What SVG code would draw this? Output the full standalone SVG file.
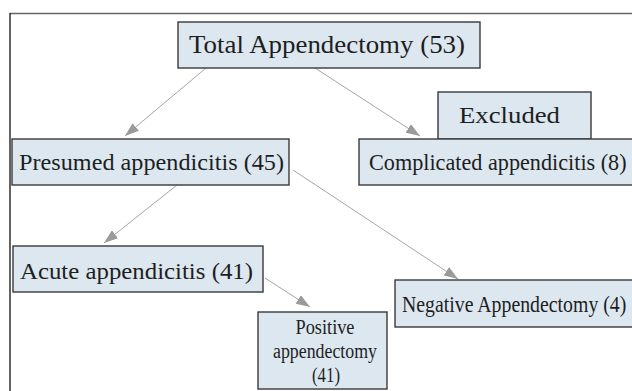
<svg xmlns="http://www.w3.org/2000/svg" width="632" height="391" viewBox="0 0 632 391">
<style>
.box{fill:#dce7f0;stroke:#3a3a3a;stroke-width:1.4}
.t{font-family:"Liberation Serif","Times New Roman",serif;fill:#1e1e1e;font-size:24px}
.s{font-size:20px}
.c{text-anchor:middle}
.ln{stroke:#a6a6a6;stroke-width:1;fill:none;marker-end:url(#ah)}
</style>
<defs>
<marker id="ah" markerUnits="userSpaceOnUse" markerWidth="14" markerHeight="10" refX="14" refY="5" orient="auto">
<path d="M0,0 L14,5 L0,10 z" fill="#9a9a9a"/>
</marker>
</defs>
<rect width="632" height="391" fill="#ffffff"/>
<g id="frame">
<line x1="10" y1="13.5" x2="632" y2="13.5" stroke="#666" stroke-width="1.6"/>
<line x1="10" y1="13" x2="10" y2="391" stroke="#222" stroke-width="1.4"/>
</g>
<g id="connectors">
<line class="ln" x1="206" y1="68" x2="125" y2="136"/>
<line class="ln" x1="315" y1="68" x2="420" y2="136"/>
<line class="ln" x1="177" y1="185" x2="104" y2="243"/>
<line class="ln" x1="293" y1="170" x2="458" y2="279"/>
<line class="ln" x1="265" y1="278" x2="310" y2="307"/>
</g>
<g id="total">
<rect class="box" x="178" y="22" width="302" height="46"/>
<text class="t" x="189" y="53" style="font-size:26px" textLength="276" lengthAdjust="spacingAndGlyphs">Total Appendectomy (53)</text>
</g>
<g id="excluded">
<rect class="box" x="438" y="92" width="153" height="47"/>
<text class="t" x="459" y="123" textLength="101" lengthAdjust="spacingAndGlyphs">Excluded</text>
</g>
<g id="presumed">
<rect class="box" x="12" y="139" width="277" height="46"/>
<text class="t" x="19" y="170" textLength="265" lengthAdjust="spacingAndGlyphs">Presumed appendicitis (45)</text>
</g>
<g id="complicated">
<rect class="box" x="359" y="139" width="280" height="46"/>
<text class="t" transform="translate(369,170) scale(0.925,1)" x="0" y="0">Complicated appendicitis (8)</text>
</g>
<g id="acute">
<rect class="box" x="13" y="246" width="250" height="46"/>
<text class="t" x="20" y="279" textLength="233" lengthAdjust="spacingAndGlyphs">Acute appendicitis (41)</text>
</g>
<g id="negative">
<rect class="box" x="395" y="280" width="245" height="47"/>
<text class="t" transform="translate(402,312) scale(0.825,1)" x="0" y="0">Negative Appendectomy (4)</text>
</g>
<g id="positive">
<rect class="box" x="258" y="312" width="129" height="77"/>
<text class="t s c" x="325" y="334" textLength="59" lengthAdjust="spacingAndGlyphs">Positive</text>
<text class="t s c" x="325" y="358" textLength="104" lengthAdjust="spacingAndGlyphs">appendectomy</text>
<text class="t s c" x="326" y="382" textLength="28" lengthAdjust="spacingAndGlyphs">(41)</text>
</g>
</svg>
